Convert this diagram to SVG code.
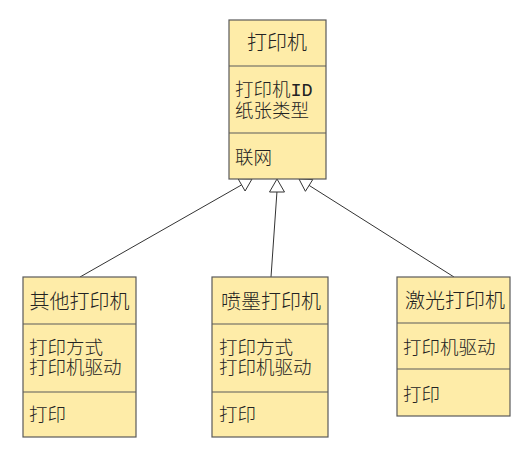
<svg xmlns="http://www.w3.org/2000/svg" width="532" height="456" viewBox="0 0 532 456">
<style>
.box{fill:#feeca8;stroke:#5a5a5a;stroke-width:1.2}
.div{stroke:#5a5a5a;stroke-width:1.2}
.t{font-family:"Liberation Mono","Noto Sans CJK SC",monospace;fill:#222;font-size:18.5px;font-weight:300}
.h{font-size:20px;text-anchor:middle}
.n{font-weight:normal}
.ln{stroke:#333;stroke-width:1;fill:none}
.ar{fill:#fff;stroke:#333;stroke-width:1}
</style>
<rect width="532" height="456" fill="#fff"/>
<g id="connectors">
<line class="ln" x1="80" y1="277" x2="241.6" y2="184.9"/>
<polygon class="ar" points="252,179 238.1,178.8 245.1,191"/>
<line class="ln" x1="271" y1="277" x2="277" y2="191"/>
<polygon class="ar" points="277,179 269.5,192 284.5,192"/>
<line class="ln" x1="454" y1="277" x2="309.1" y2="185.4"/>
<polygon class="ar" points="299,179 312.8,179.5 305.4,191.3"/>
</g>
<g id="printer">
<rect class="box" x="229" y="20" width="97" height="159"/>
<line class="div" x1="229" y1="66" x2="326" y2="66"/>
<line class="div" x1="229" y1="133" x2="326" y2="133"/>
<text class="t h" x="277" y="50">打印机</text>
<text class="t" x="235" y="96">打印机<tspan class="n">ID</tspan></text>
<text class="t" x="235" y="117">纸张类型</text>
<text class="t" x="235" y="164">联网</text>
</g>
<g id="other">
<rect class="box" x="23" y="277" width="113" height="160"/>
<line class="div" x1="23" y1="324" x2="136" y2="324"/>
<line class="div" x1="23" y1="392" x2="136" y2="392"/>
<text class="t h" x="79.5" y="309">其他打印机</text>
<text class="t" x="29" y="354">打印方式</text>
<text class="t" x="29" y="374">打印机驱动</text>
<text class="t" x="29" y="421">打印</text>
</g>
<g id="inkjet">
<rect class="box" x="212" y="277" width="116" height="160"/>
<line class="div" x1="212" y1="324" x2="328" y2="324"/>
<line class="div" x1="212" y1="392" x2="328" y2="392"/>
<text class="t h" x="271" y="309">喷墨打印机</text>
<text class="t" x="219" y="354">打印方式</text>
<text class="t" x="219" y="374">打印机驱动</text>
<text class="t" x="219" y="421">打印</text>
</g>
<g id="laser">
<rect class="box" x="397" y="277" width="113" height="139"/>
<line class="div" x1="397" y1="323" x2="510" y2="323"/>
<line class="div" x1="397" y1="369" x2="510" y2="369"/>
<text class="t h" x="455" y="308">激光打印机</text>
<text class="t" x="403" y="354">打印机驱动</text>
<text class="t" x="403" y="401">打印</text>
</g>
</svg>
